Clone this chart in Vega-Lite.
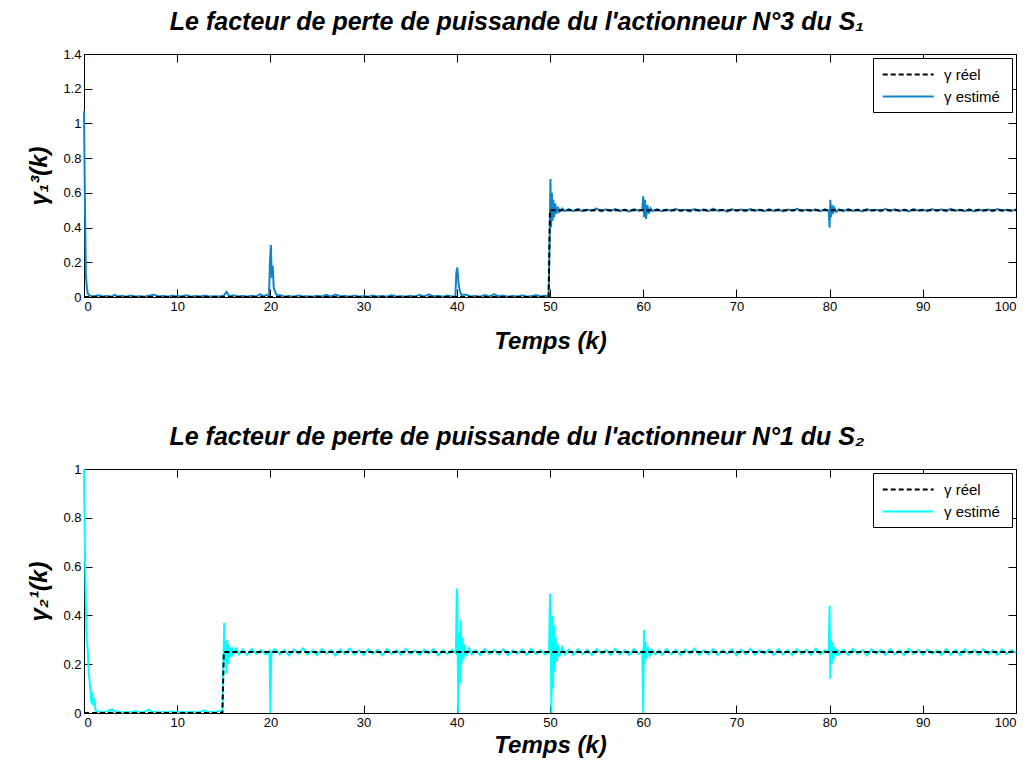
{
  "$schema": "https://vega.github.io/schema/vega-lite/v6.json",
  "padding": {"left": 27, "top": 9, "right": 10, "bottom": 5},
  "bounds": "flush",
  "spacing": 172,
  "config": {
    "font": "Liberation Sans",
    "view": {"stroke": "black", "strokeWidth": 1},
    "axis": {"grid": false, "domainColor": "black", "tickColor": "black", "tickSize": -8, "labelFontSize": 13, "labelColor": "black", "labelPadding": 11, "titleFontSize": 24, "titleFontWeight": "bold", "titleFontStyle": "italic", "titleColor": "black", "labelFont": "Liberation Sans", "titleFont": "Liberation Sans"},
    "title": {"fontSize": 25, "fontStyle": "italic", "fontWeight": "bold", "font": "Liberation Sans", "color": "black", "offset": 13, "dx": -33},
    "legend": {"orient": "top-right", "offset": 4, "strokeColor": "black", "fillColor": "white", "padding": 7, "symbolType": "M-0.8,0H5.2", "symbolSize": 289, "symbolStrokeWidth": 2, "labelFontSize": 15, "labelFont": "Liberation Sans", "labelColor": "black", "rowPadding": 4, "labelOffset": 45, "titleOrient": "right", "titlePadding": 5, "titleFontSize": 13}
  },
  "resolve": {"scale": {"color": "independent", "strokeDash": "independent"}},
  "datasets": {
    "topReal": [{"t":0,"v":0},{"t":49.85,"v":0},{"t":50,"v":0.5},{"t":100,"v":0.5}],
    "botReal": [{"t":0,"v":0},{"t":14.85,"v":0},{"t":15,"v":0.25},{"t":100,"v":0.25}],
    "top": [
{"t":0,"v":1.07},{"t":0.1,"v":0.55},{"t":0.2,"v":0.13},{"t":0.3,"v":0.06},{"t":0.4,"v":0.02},{"t":0.6,"v":0.008},{"t":1,"v":0.004},{"t":1.5,"v":0.01},{"t":2,"v":0.003},{"t":2.5,"v":0.006},{"t":3,"v":0.002},{"t":3.3,"v":0.013},{"t":3.6,"v":0.003},{"t":4,"v":0.007},{"t":4.5,"v":0.002},{"t":5,"v":0.009},{"t":5.5,"v":0.003},{"t":6,"v":0.005},{"t":6.5,"v":0.002},{"t":7,"v":0.008},{"t":7.5,"v":0.013},{"t":8,"v":0.003},{"t":8.5,"v":0.006},{"t":9,"v":0.002},{"t":9.5,"v":0.008},{"t":10,"v":0.003},{"t":10.5,"v":0.005},{"t":11,"v":0.01},{"t":11.5,"v":0.002},{"t":12,"v":0.006},{"t":12.5,"v":0.003},{"t":13,"v":0.009},{"t":13.5,"v":0.002},{"t":14,"v":0.005},{"t":14.5,"v":0.003},{"t":15,"v":0.008},{"t":15.3,"v":0.03},{"t":15.6,"v":0.004},{"t":16,"v":0.01},{"t":16.5,"v":0.003},{"t":17,"v":0.006},{"t":17.5,"v":0.002},{"t":18,"v":0.007},{"t":18.5,"v":0.003},{"t":18.9,"v":0.016},{"t":19.3,"v":0.004},{"t":19.6,"v":0.012},{"t":19.85,"v":0.003},{"t":19.95,"v":0.2},{"t":20.05,"v":0.3},{"t":20.15,"v":0.11},{"t":20.25,"v":0.18},{"t":20.35,"v":0.06},{"t":20.5,"v":0.03},{"t":20.7,"v":0.008},{"t":21,"v":0.012},{"t":21.5,"v":0.003},{"t":22,"v":0.006},{"t":22.5,"v":0.002},{"t":23,"v":0.009},{"t":23.5,"v":0.003},{"t":24,"v":0.005},{"t":24.5,"v":0.002},{"t":25,"v":0.007},{"t":25.5,"v":0.003},{"t":26,"v":0.012},{"t":26.5,"v":0.003},{"t":27,"v":0.014},{"t":27.5,"v":0.004},{"t":28,"v":0.006},{"t":28.5,"v":0.002},{"t":29,"v":0.008},{"t":29.5,"v":0.003},{"t":30,"v":0.005},{"t":30.5,"v":0.002},{"t":31,"v":0.009},{"t":31.5,"v":0.003},{"t":32,"v":0.006},{"t":32.5,"v":0.002},{"t":33,"v":0.01},{"t":33.5,"v":0.003},{"t":34,"v":0.005},{"t":34.5,"v":0.002},{"t":35,"v":0.007},{"t":35.5,"v":0.003},{"t":36,"v":0.012},{"t":36.5,"v":0.003},{"t":37,"v":0.015},{"t":37.5,"v":0.004},{"t":38,"v":0.007},{"t":38.5,"v":0.002},{"t":39,"v":0.009},{"t":39.5,"v":0.003},{"t":39.85,"v":0.004},{"t":39.95,"v":0.14},{"t":40.05,"v":0.17},{"t":40.2,"v":0.07},{"t":40.35,"v":0.03},{"t":40.5,"v":0.012},{"t":41,"v":0.013},{"t":41.5,"v":0.003},{"t":42,"v":0.006},{"t":42.5,"v":0.002},{"t":43,"v":0.011},{"t":43.5,"v":0.003},{"t":44,"v":0.016},{"t":44.5,"v":0.004},{"t":45,"v":0.008},{"t":45.5,"v":0.002},{"t":46,"v":0.006},{"t":46.5,"v":0.003},{"t":47,"v":0.01},{"t":47.5,"v":0.002},{"t":48,"v":0.005},{"t":48.5,"v":0.011},{"t":49,"v":0.003},{"t":49.5,"v":0.008},{"t":49.85,"v":0.002},{"t":49.95,"v":0.3},{"t":50.05,"v":0.68},{"t":50.12,"v":0.4},{"t":50.2,"v":0.6},{"t":50.28,"v":0.44},{"t":50.36,"v":0.56},{"t":50.45,"v":0.46},{"t":50.55,"v":0.54},{"t":50.7,"v":0.48},{"t":50.85,"v":0.52},{"t":51,"v":0.49},{"t":51.3,"v":0.51},{"t":51.6,"v":0.495},{"t":52,"v":0.506},{"t":52.5,"v":0.495},{"t":53,"v":0.508},{"t":53.5,"v":0.494},{"t":54,"v":0.503},{"t":54.5,"v":0.497},{"t":55,"v":0.51},{"t":55.5,"v":0.493},{"t":56,"v":0.505},{"t":56.5,"v":0.496},{"t":57,"v":0.507},{"t":57.5,"v":0.495},{"t":58,"v":0.504},{"t":58.5,"v":0.492},{"t":59,"v":0.506},{"t":59.5,"v":0.497},{"t":59.9,"v":0.503},{"t":60,"v":0.58},{"t":60.1,"v":0.46},{"t":60.2,"v":0.56},{"t":60.3,"v":0.45},{"t":60.45,"v":0.53},{"t":60.6,"v":0.48},{"t":60.8,"v":0.51},{"t":61,"v":0.495},{"t":61.5,"v":0.506},{"t":62,"v":0.494},{"t":62.5,"v":0.504},{"t":63,"v":0.497},{"t":63.5,"v":0.508},{"t":64,"v":0.495},{"t":64.5,"v":0.503},{"t":65,"v":0.493},{"t":65.5,"v":0.507},{"t":66,"v":0.496},{"t":66.5,"v":0.505},{"t":67,"v":0.494},{"t":67.5,"v":0.509},{"t":68,"v":0.497},{"t":68.5,"v":0.503},{"t":69,"v":0.492},{"t":69.5,"v":0.506},{"t":70,"v":0.496},{"t":70.5,"v":0.504},{"t":71,"v":0.495},{"t":71.5,"v":0.507},{"t":72,"v":0.497},{"t":72.5,"v":0.503},{"t":73,"v":0.494},{"t":73.5,"v":0.506},{"t":74,"v":0.496},{"t":74.5,"v":0.505},{"t":75,"v":0.493},{"t":75.5,"v":0.504},{"t":76,"v":0.497},{"t":76.5,"v":0.508},{"t":77,"v":0.495},{"t":77.5,"v":0.503},{"t":78,"v":0.496},{"t":78.5,"v":0.505},{"t":79,"v":0.494},{"t":79.5,"v":0.506},{"t":79.9,"v":0.498},{"t":80,"v":0.4},{"t":80.08,"v":0.56},{"t":80.16,"v":0.46},{"t":80.25,"v":0.53},{"t":80.35,"v":0.48},{"t":80.5,"v":0.515},{"t":80.7,"v":0.49},{"t":81,"v":0.505},{"t":81.5,"v":0.495},{"t":82,"v":0.507},{"t":82.5,"v":0.496},{"t":83,"v":0.504},{"t":83.5,"v":0.493},{"t":84,"v":0.506},{"t":84.5,"v":0.497},{"t":85,"v":0.503},{"t":85.5,"v":0.494},{"t":86,"v":0.508},{"t":86.5,"v":0.496},{"t":87,"v":0.505},{"t":87.5,"v":0.495},{"t":88,"v":0.504},{"t":88.5,"v":0.493},{"t":89,"v":0.507},{"t":89.5,"v":0.497},{"t":90,"v":0.503},{"t":90.5,"v":0.495},{"t":91,"v":0.506},{"t":91.5,"v":0.496},{"t":92,"v":0.505},{"t":92.5,"v":0.494},{"t":93,"v":0.508},{"t":93.5,"v":0.497},{"t":94,"v":0.503},{"t":94.5,"v":0.495},{"t":95,"v":0.506},{"t":95.5,"v":0.493},{"t":96,"v":0.504},{"t":96.5,"v":0.497},{"t":97,"v":0.505},{"t":97.5,"v":0.494},{"t":98,"v":0.507},{"t":98.5,"v":0.496},{"t":99,"v":0.503},{"t":99.5,"v":0.495},{"t":100,"v":0.505}
    ],
    "bot": [
{"t":0,"v":1.0},{"t":0.1,"v":0.66},{"t":0.2,"v":0.44},{"t":0.3,"v":0.3},{"t":0.4,"v":0.26},{"t":0.5,"v":0.17},{"t":0.6,"v":0.13},{"t":0.7,"v":0.09},{"t":0.8,"v":0.04},{"t":0.9,"v":0.085},{"t":1.0,"v":0.03},{"t":1.1,"v":0.06},{"t":1.25,"v":0.01},{"t":1.5,"v":0.006},{"t":2,"v":0.003},{"t":2.5,"v":0.007},{"t":3,"v":0.015},{"t":3.3,"v":0.004},{"t":3.7,"v":0.006},{"t":4,"v":0.002},{"t":4.5,"v":0.005},{"t":5,"v":0.003},{"t":5.5,"v":0.008},{"t":6,"v":0.002},{"t":6.5,"v":0.005},{"t":7,"v":0.014},{"t":7.3,"v":0.003},{"t":7.7,"v":0.006},{"t":8,"v":0.002},{"t":8.5,"v":0.005},{"t":9,"v":0.003},{"t":9.5,"v":0.007},{"t":10,"v":0.002},{"t":10.5,"v":0.005},{"t":11,"v":0.003},{"t":11.5,"v":0.006},{"t":12,"v":0.002},{"t":12.5,"v":0.005},{"t":13,"v":0.011},{"t":13.3,"v":0.003},{"t":13.7,"v":0.006},{"t":14,"v":0.002},{"t":14.5,"v":0.009},{"t":14.85,"v":0.004},{"t":14.95,"v":0.18},{"t":15.05,"v":0.37},{"t":15.12,"v":0.21},{"t":15.2,"v":0.29},{"t":15.28,"v":0.16},{"t":15.36,"v":0.3},{"t":15.45,"v":0.2},{"t":15.55,"v":0.28},{"t":15.7,"v":0.23},{"t":15.85,"v":0.27},{"t":16,"v":0.24},{"t":16.3,"v":0.265},{"t":16.6,"v":0.24},{"t":17,"v":0.26},{"t":17.5,"v":0.238},{"t":18,"v":0.262},{"t":18.5,"v":0.242},{"t":19,"v":0.258},{"t":19.5,"v":0.24},{"t":19.9,"v":0.255},{"t":20,"v":0.0},{"t":20.1,"v":0.25},{"t":20.5,"v":0.262},{"t":21,"v":0.24},{"t":21.5,"v":0.258},{"t":22,"v":0.236},{"t":22.5,"v":0.26},{"t":23,"v":0.243},{"t":23.5,"v":0.265},{"t":24,"v":0.24},{"t":24.5,"v":0.256},{"t":25,"v":0.238},{"t":25.5,"v":0.262},{"t":26,"v":0.244},{"t":26.5,"v":0.258},{"t":27,"v":0.236},{"t":27.5,"v":0.26},{"t":28,"v":0.242},{"t":28.5,"v":0.264},{"t":29,"v":0.24},{"t":29.5,"v":0.257},{"t":30,"v":0.238},{"t":30.5,"v":0.261},{"t":31,"v":0.243},{"t":31.5,"v":0.259},{"t":32,"v":0.237},{"t":32.5,"v":0.262},{"t":33,"v":0.241},{"t":33.5,"v":0.258},{"t":34,"v":0.239},{"t":34.5,"v":0.263},{"t":35,"v":0.242},{"t":35.5,"v":0.256},{"t":36,"v":0.238},{"t":36.5,"v":0.26},{"t":37,"v":0.244},{"t":37.5,"v":0.262},{"t":38,"v":0.236},{"t":38.5,"v":0.258},{"t":39,"v":0.241},{"t":39.5,"v":0.26},{"t":39.9,"v":0.245},{"t":40,"v":0.51},{"t":40.06,"v":0.47},{"t":40.15,"v":0.0},{"t":40.25,"v":0.33},{"t":40.33,"v":0.12},{"t":40.42,"v":0.38},{"t":40.5,"v":0.2},{"t":40.6,"v":0.31},{"t":40.72,"v":0.22},{"t":40.85,"v":0.28},{"t":41,"v":0.235},{"t":41.3,"v":0.265},{"t":41.6,"v":0.24},{"t":42,"v":0.258},{"t":42.5,"v":0.238},{"t":43,"v":0.262},{"t":43.5,"v":0.242},{"t":44,"v":0.259},{"t":44.5,"v":0.24},{"t":45,"v":0.262},{"t":45.5,"v":0.237},{"t":46,"v":0.257},{"t":46.5,"v":0.243},{"t":47,"v":0.26},{"t":47.5,"v":0.238},{"t":48,"v":0.263},{"t":48.5,"v":0.241},{"t":49,"v":0.258},{"t":49.5,"v":0.24},{"t":49.9,"v":0.252},{"t":50,"v":0.49},{"t":50.06,"v":0.44},{"t":50.15,"v":0.0},{"t":50.25,"v":0.4},{"t":50.33,"v":0.1},{"t":50.42,"v":0.36},{"t":50.5,"v":0.17},{"t":50.6,"v":0.31},{"t":50.72,"v":0.21},{"t":50.85,"v":0.28},{"t":51,"v":0.23},{"t":51.3,"v":0.268},{"t":51.6,"v":0.24},{"t":52,"v":0.26},{"t":52.5,"v":0.238},{"t":53,"v":0.262},{"t":53.5,"v":0.241},{"t":54,"v":0.259},{"t":54.5,"v":0.237},{"t":55,"v":0.261},{"t":55.5,"v":0.243},{"t":56,"v":0.258},{"t":56.5,"v":0.239},{"t":57,"v":0.263},{"t":57.5,"v":0.24},{"t":58,"v":0.257},{"t":58.5,"v":0.238},{"t":59,"v":0.262},{"t":59.5,"v":0.242},{"t":59.9,"v":0.255},{"t":60,"v":0.0},{"t":60.08,"v":0.34},{"t":60.16,"v":0.2},{"t":60.25,"v":0.29},{"t":60.35,"v":0.22},{"t":60.5,"v":0.27},{"t":60.7,"v":0.235},{"t":60.9,"v":0.26},{"t":61.3,"v":0.24},{"t":61.7,"v":0.258},{"t":62,"v":0.238},{"t":62.5,"v":0.262},{"t":63,"v":0.241},{"t":63.5,"v":0.259},{"t":64,"v":0.237},{"t":64.5,"v":0.26},{"t":65,"v":0.243},{"t":65.5,"v":0.264},{"t":66,"v":0.239},{"t":66.5,"v":0.257},{"t":67,"v":0.24},{"t":67.5,"v":0.262},{"t":68,"v":0.238},{"t":68.5,"v":0.258},{"t":69,"v":0.242},{"t":69.5,"v":0.261},{"t":70,"v":0.237},{"t":70.5,"v":0.259},{"t":71,"v":0.241},{"t":71.5,"v":0.263},{"t":72,"v":0.239},{"t":72.5,"v":0.257},{"t":73,"v":0.243},{"t":73.5,"v":0.26},{"t":74,"v":0.238},{"t":74.5,"v":0.262},{"t":75,"v":0.24},{"t":75.5,"v":0.258},{"t":76,"v":0.237},{"t":76.5,"v":0.261},{"t":77,"v":0.242},{"t":77.5,"v":0.259},{"t":78,"v":0.238},{"t":78.5,"v":0.263},{"t":79,"v":0.241},{"t":79.5,"v":0.257},{"t":79.9,"v":0.248},{"t":80,"v":0.44},{"t":80.07,"v":0.14},{"t":80.15,"v":0.3},{"t":80.23,"v":0.2},{"t":80.32,"v":0.29},{"t":80.42,"v":0.22},{"t":80.55,"v":0.27},{"t":80.7,"v":0.235},{"t":80.85,"v":0.262},{"t":81,"v":0.24},{"t":81.5,"v":0.26},{"t":82,"v":0.238},{"t":82.5,"v":0.262},{"t":83,"v":0.242},{"t":83.5,"v":0.258},{"t":84,"v":0.236},{"t":84.5,"v":0.261},{"t":85,"v":0.243},{"t":85.5,"v":0.259},{"t":86,"v":0.238},{"t":86.5,"v":0.262},{"t":87,"v":0.24},{"t":87.5,"v":0.257},{"t":88,"v":0.237},{"t":88.5,"v":0.263},{"t":89,"v":0.241},{"t":89.5,"v":0.258},{"t":90,"v":0.239},{"t":90.5,"v":0.26},{"t":91,"v":0.243},{"t":91.5,"v":0.256},{"t":92,"v":0.238},{"t":92.5,"v":0.262},{"t":93,"v":0.24},{"t":93.5,"v":0.259},{"t":94,"v":0.237},{"t":94.5,"v":0.261},{"t":95,"v":0.242},{"t":95.5,"v":0.258},{"t":96,"v":0.239},{"t":96.5,"v":0.262},{"t":97,"v":0.241},{"t":97.5,"v":0.257},{"t":98,"v":0.238},{"t":98.5,"v":0.26},{"t":99,"v":0.242},{"t":99.5,"v":0.258},{"t":100,"v":0.245}
    ]
  },
  "vconcat": [
    {
      "width": 932, "height": 243,
      "title": {"text": "Le facteur de perte de puissande du l'actionneur N°3 du S₁"},
      "layer": [
        {
          "data": {"name": "top"},
          "mark": {"type": "line", "strokeWidth": 2},
          "encoding": {
            "x": {"field": "t", "type": "quantitative", "scale": {"domain": [0, 100]}, "axis": {"orient": "bottom", "values": [0,10,20,30,40,50,60,70,80,90,100], "title": "Temps (k)", "titlePadding": 16}},
            "y": {"field": "v", "type": "quantitative", "scale": {"domain": [0, 1.4]}, "axis": {"orient": "left", "values": [0,0.2,0.4,0.6,0.8,1,1.2,1.4], "format": "~g", "title": "γ₁³(k)", "titlePadding": 11}},
            "color": {"datum": "γ estimé", "scale": {"domain": ["γ réel", "γ estimé"], "range": ["black", "#0f84c9"]}, "legend": {"title": "\u00a0\u00a0\u00a0\u00a0\u00a0"}},
            "strokeDash": {"datum": "γ estimé", "scale": {"domain": ["γ réel", "γ estimé"], "range": [[5,3],[1,0]]}, "legend": {"title": "\u00a0\u00a0\u00a0\u00a0\u00a0"}}
          }
        },
        {
          "data": {"name": "topReal"},
          "mark": {"type": "line", "strokeWidth": 2},
          "encoding": {
            "x": {"field": "t", "type": "quantitative", "scale": {"domain": [0, 100]}, "axis": {"orient": "top", "values": [0,10,20,30,40,50,60,70,80,90,100], "labels": false, "title": null}},
            "y": {"field": "v", "type": "quantitative", "scale": {"domain": [0, 1.4]}, "axis": {"orient": "right", "values": [0,0.2,0.4,0.6,0.8,1,1.2,1.4], "labels": false, "title": null}},
            "color": {"datum": "γ réel"},
            "strokeDash": {"datum": "γ réel"}
          }
        }
      ],
      "resolve": {"scale": {"x": "independent", "y": "independent"}, "axis": {"x": "independent", "y": "independent"}}
    },
    {
      "width": 932, "height": 244,
      "title": {"text": "Le facteur de perte de puissande du l'actionneur N°1 du S₂"},
      "layer": [
        {
          "data": {"name": "bot"},
          "mark": {"type": "line", "strokeWidth": 2},
          "encoding": {
            "x": {"field": "t", "type": "quantitative", "scale": {"domain": [0, 100]}, "axis": {"orient": "bottom", "values": [0,10,20,30,40,50,60,70,80,90,100], "title": "Temps (k)", "titlePadding": 4}},
            "y": {"field": "v", "type": "quantitative", "scale": {"domain": [0, 1]}, "axis": {"orient": "left", "values": [0,0.2,0.4,0.6,0.8,1], "format": "~g", "title": "γ₂¹(k)", "titlePadding": 11}},
            "color": {"datum": "γ estimé", "scale": {"domain": ["γ réel", "γ estimé"], "range": ["black", "#00ffff"]}, "legend": {"title": "\u00a0\u00a0\u00a0\u00a0\u00a0"}},
            "strokeDash": {"datum": "γ estimé", "scale": {"domain": ["γ réel", "γ estimé"], "range": [[5,3],[1,0]]}, "legend": {"title": "\u00a0\u00a0\u00a0\u00a0\u00a0"}}
          }
        },
        {
          "data": {"name": "botReal"},
          "mark": {"type": "line", "strokeWidth": 2},
          "encoding": {
            "x": {"field": "t", "type": "quantitative", "scale": {"domain": [0, 100]}, "axis": {"orient": "top", "values": [0,10,20,30,40,50,60,70,80,90,100], "labels": false, "title": null}},
            "y": {"field": "v", "type": "quantitative", "scale": {"domain": [0, 1]}, "axis": {"orient": "right", "values": [0,0.2,0.4,0.6,0.8,1], "labels": false, "title": null}},
            "color": {"datum": "γ réel"},
            "strokeDash": {"datum": "γ réel"}
          }
        }
      ],
      "resolve": {"scale": {"x": "independent", "y": "independent"}, "axis": {"x": "independent", "y": "independent"}}
    }
  ]
}
